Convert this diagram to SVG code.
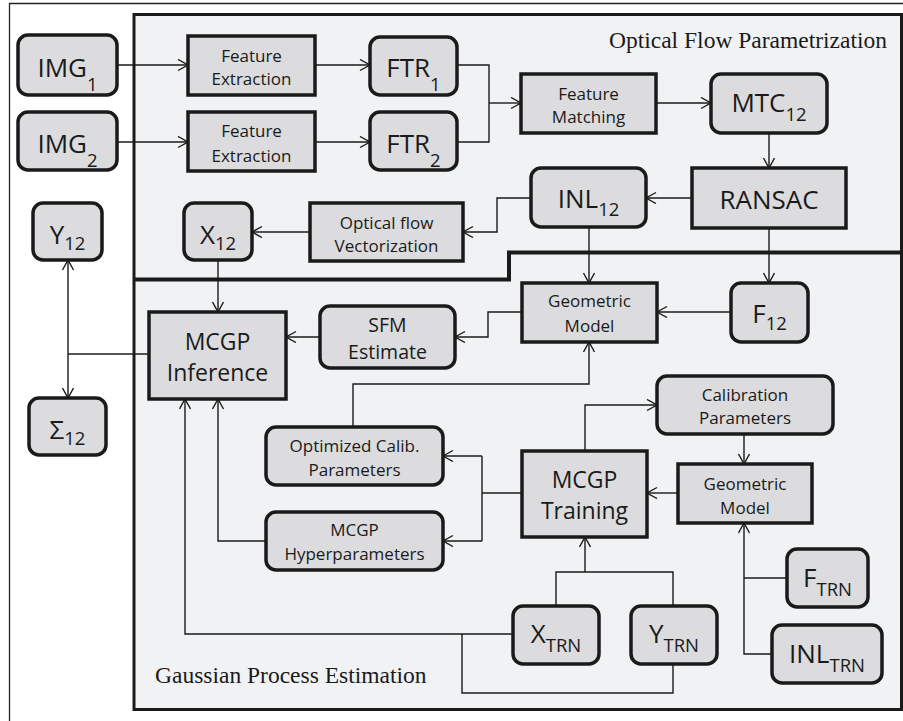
<svg xmlns="http://www.w3.org/2000/svg" width="903" height="721" viewBox="0 0 903 721">
<defs>
<marker id="arr" markerUnits="userSpaceOnUse" markerWidth="14" markerHeight="14" refX="11" refY="6" orient="auto">
<path d="M1,0.5 L11,6 L1,11.5" fill="none" stroke="#1a1a1a" stroke-width="1.4"/>
</marker>
<style>
.rn{fill:#dcdcde;stroke:#1a1a1a;stroke-width:3.5}
.sq{fill:#dcdcde;stroke:#1a1a1a;stroke-width:3.5}
.c{fill:none;stroke:#1a1a1a;stroke-width:1.4}
.a{marker-end:url(#arr)}
.big{font-family:"Open Sans","Liberation Sans",sans-serif;font-size:26px;fill:#1a1a1a;text-anchor:middle}
.mid{font-family:"Open Sans","Liberation Sans",sans-serif;font-size:23px;fill:#1a1a1a;text-anchor:middle}
.sm{font-family:"Open Sans","Liberation Sans",sans-serif;font-size:17px;fill:#1a1a1a;text-anchor:middle}
.sub{font-size:18.5px}
.ser{font-family:"Liberation Serif","Times New Roman",serif;font-size:23.5px;fill:#1a1a1a}
</style>
</defs>
<rect x="0" y="0" width="903" height="721" fill="#ffffff"/>
<path d="M9.5,721 V3.5 H903" fill="none" stroke="#222" stroke-width="1.3"/>
<g id="panels">
<rect x="134" y="14.5" width="767.5" height="695" fill="#f1f2f4" stroke="#1a1a1a" stroke-width="3"/>
<path d="M134,279.5 H509 V252.5 H901.5" fill="none" stroke="#1a1a1a" stroke-width="4"/>
<text class="ser" x="887" y="48" text-anchor="end">Optical Flow Parametrization</text>
<text class="ser" x="155" y="683">Gaussian Process Estimation</text>
</g>
<g id="connectors">
<path class="c a" d="M117,65 H188"/>
<path class="c a" d="M117,142 H188"/>
<path class="c a" d="M315,65 H370"/>
<path class="c a" d="M315,142 H370"/>
<path class="c" d="M457,65 H489 V142 H457"/>
<path class="c a" d="M489,103 H521"/>
<path class="c a" d="M656,103 H711"/>
<path class="c a" d="M769,133 V168"/>
<path class="c a" d="M692,198 H646"/>
<path class="c a" d="M531,198 H497 V232 H463"/>
<path class="c a" d="M310,232 H252"/>
<path class="c a" d="M218,260 V312"/>
<path class="c a" d="M589,227 V283"/>
<path class="c a" d="M769,228 V283"/>
<path class="c a" d="M731,312 H657"/>
<path class="c a" d="M522,312 H488 V337 H455"/>
<path class="c a" d="M320,337 H286"/>
<path class="c" d="M149,354 H68"/>
<path class="c a" d="M68,354 V260"/>
<path class="c a" d="M68,354 V398"/>
<path class="c a" d="M353,427 V384 H589 V342"/>
<path class="c a" d="M585,451 V405 H657"/>
<path class="c a" d="M744,434 V464"/>
<path class="c a" d="M678,493 H647"/>
<path class="c" d="M522,493 H482"/>
<path class="c" d="M482,456 V541"/>
<path class="c a" d="M482,456 H443"/>
<path class="c a" d="M482,541 H443"/>
<path class="c a" d="M266,541 H218 V399"/>
<path class="c a" d="M513,634 H185 V399"/>
<path class="c" d="M673,664 V693 H462 V634"/>
<path class="c" d="M556,606 V572 H673 V606"/>
<path class="c a" d="M585,572 V537"/>
<path class="c a" d="M772,654 H744 V523"/>
<path class="c" d="M787,578 H744"/>
</g>
<g id="img1"><rect class="rn" x="18" y="35" width="99" height="60" rx="10"/><text class="big" x="67.5" y="77">IMG<tspan class="sub" dy="14">1</tspan></text></g>
<g id="img2"><rect class="rn" x="18" y="112" width="99" height="58" rx="10"/><text class="big" x="67.5" y="153">IMG<tspan class="sub" dy="14">2</tspan></text></g>
<g id="fe1"><rect class="sq" x="188" y="36" width="127" height="59"/><text class="sm" x="251.5" y="62">Feature</text><text class="sm" x="251.5" y="85">Extraction</text></g>
<g id="fe2"><rect class="sq" x="188" y="112" width="127" height="59"/><text class="sm" x="251.5" y="137">Feature</text><text class="sm" x="251.5" y="161.5">Extraction</text></g>
<g id="ftr1"><rect class="rn" x="370" y="37" width="87" height="58" rx="10"/><text class="big" x="413.5" y="77">FTR<tspan class="sub" dy="14">1</tspan></text></g>
<g id="ftr2"><rect class="rn" x="370" y="112" width="87" height="58" rx="10"/><text class="big" x="413.5" y="153">FTR<tspan class="sub" dy="14">2</tspan></text></g>
<g id="fm"><rect class="sq" x="521" y="74" width="135" height="59"/><text class="sm" x="588.5" y="100">Feature</text><text class="sm" x="588.5" y="123">Matching</text></g>
<g id="mtc12"><rect class="rn" x="711" y="74" width="116" height="59" rx="10"/><text class="big" x="769" y="112">MTC<tspan class="sub" dy="9">12</tspan></text></g>
<g id="ransac"><rect class="sq" x="692" y="168" width="154" height="60"/><text class="big" x="769" y="209">RANSAC</text></g>
<g id="inl12"><rect class="rn" x="531" y="168" width="115" height="59" rx="10"/><text class="big" x="588.5" y="208">INL<tspan class="sub" dy="8">12</tspan></text></g>
<g id="ofv"><rect class="sq" x="310" y="203" width="153" height="58"/><text class="sm" x="386.5" y="229">Optical flow</text><text class="sm" x="386.5" y="252">Vectorization</text></g>
<g id="x12"><rect class="rn" x="184" y="203" width="68" height="57" rx="10"/><text class="big" x="218" y="244">X<tspan class="sub" dy="6">12</tspan></text></g>
<g id="y12"><rect class="rn" x="33" y="203" width="69" height="57" rx="10"/><text class="big" x="67.5" y="244">Y<tspan class="sub" dy="6">12</tspan></text></g>
<g id="sigma12"><rect class="rn" x="29" y="398" width="77" height="57" rx="10"/><text class="big" x="67.5" y="439">Σ<tspan class="sub" dy="6">12</tspan></text></g>
<g id="inference"><rect class="sq" x="149" y="312" width="137" height="87"/><text class="mid" x="217.5" y="350">MCGP</text><text class="mid" x="217.5" y="381">Inference</text></g>
<g id="sfm"><rect class="rn" x="320" y="306" width="135" height="62" rx="10"/><text class="sm" x="387.5" y="332" style="font-size:19.5px">SFM</text><text class="sm" x="387.5" y="359" style="font-size:19.5px">Estimate</text></g>
<g id="gm1"><rect class="sq" x="522" y="283" width="135" height="59"/><text class="sm" x="589.5" y="307">Geometric</text><text class="sm" x="589.5" y="332">Model</text></g>
<g id="f12"><rect class="rn" x="731" y="283" width="77" height="59" rx="10"/><text class="big" x="769.5" y="323">F<tspan class="sub" dy="7">12</tspan></text></g>
<g id="calib"><rect class="rn" x="657" y="376" width="176" height="58" rx="10"/><text class="sm" x="745" y="401">Calibration</text><text class="sm" x="745" y="424">Parameters</text></g>
<g id="optcalib"><rect class="rn" x="266" y="427" width="177" height="58" rx="10"/><text class="sm" x="354.5" y="452">Optimized Calib.</text><text class="sm" x="354.5" y="476">Parameters</text></g>
<g id="hyper"><rect class="rn" x="266" y="512" width="177" height="58" rx="10"/><text class="sm" x="354.5" y="536">MCGP</text><text class="sm" x="354.5" y="559.5">Hyperparameters</text></g>
<g id="training"><rect class="sq" x="522" y="451" width="125" height="86"/><text class="mid" x="584.5" y="487.5">MCGP</text><text class="mid" x="584.5" y="518.5">Training</text></g>
<g id="gm2"><rect class="sq" x="678" y="464" width="134" height="59"/><text class="sm" x="745" y="489.5">Geometric</text><text class="sm" x="745" y="513.5">Model</text></g>
<g id="xtrn"><rect class="rn" x="513" y="606" width="86" height="58" rx="10"/><text class="big" x="556" y="643">X<tspan class="sub" dy="9">TRN</tspan></text></g>
<g id="ytrn"><rect class="rn" x="631" y="606" width="86" height="58" rx="10"/><text class="big" x="674" y="643">Y<tspan class="sub" dy="9">TRN</tspan></text></g>
<g id="ftrn"><rect class="rn" x="787" y="549" width="81" height="58" rx="10"/><text class="big" x="827.5" y="587">F<tspan class="sub" dy="9">TRN</tspan></text></g>
<g id="inltrn"><rect class="rn" x="772" y="625" width="110" height="58" rx="10"/><text class="big" x="827" y="663">INL<tspan class="sub" dy="9">TRN</tspan></text></g>
</svg>
